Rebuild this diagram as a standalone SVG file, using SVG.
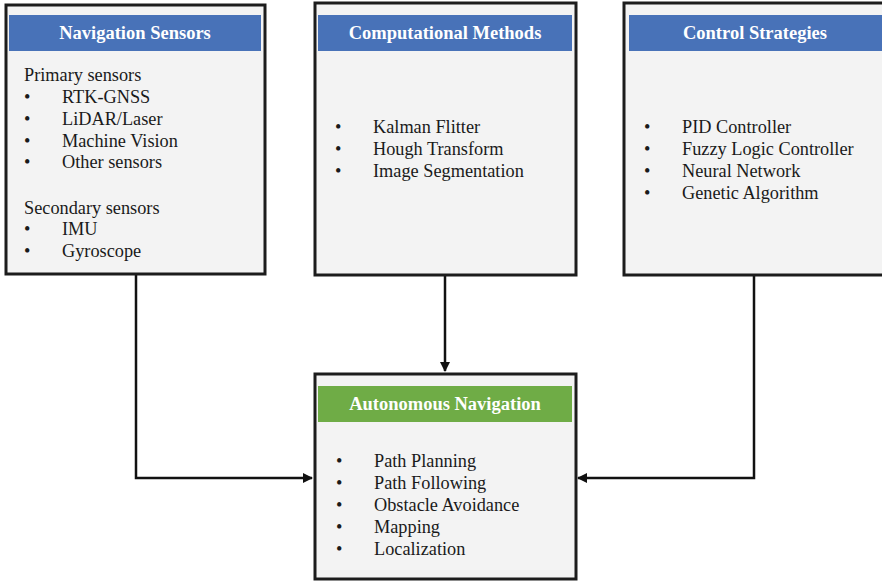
<svg xmlns="http://www.w3.org/2000/svg" width="882" height="581" viewBox="0 0 882 581">
  <style>
    .box { fill: #f3f3f3; stroke: #1c1c1c; stroke-width: 3; }
    .hdr-blue { fill: #4872b8; }
    .hdr-green { fill: #6fac46; }
    .title { font-family: "Liberation Serif", "Times New Roman", serif; font-size: 18.5px; font-weight: bold; fill: #ffffff; text-anchor: middle; }
    .txt { font-family: "Liberation Serif", "Times New Roman", serif; font-size: 18.3px; fill: #1a1a1a; }
    .link { fill: none; stroke: #111111; stroke-width: 2.5; }
  </style>
  <defs>
    <marker id="arrow" markerWidth="10" markerHeight="10" refX="9" refY="5" orient="auto" markerUnits="userSpaceOnUse">
      <path d="M0,0 L10,5 L0,10 Z" fill="#111111"/>
    </marker>
  </defs>
  <rect width="882" height="581" fill="#ffffff"/>

  <!-- connectors -->
  <g id="connectors">
    <path class="link" d="M136,275 V478 H312" marker-end="url(#arrow)"/>
    <path class="link" d="M445,275 V371" marker-end="url(#arrow)"/>
    <path class="link" d="M754,275 V478 H578" marker-end="url(#arrow)"/>
  </g>

  <!-- Navigation Sensors -->
  <g id="navigation-sensors">
    <rect class="box" x="6" y="5" width="259" height="269"/>
    <rect class="hdr-blue" x="9" y="15" width="252" height="36"/>
    <text class="title" x="135" y="39">Navigation Sensors</text>
    <text class="txt" x="24" y="81">Primary sensors</text>
    <text class="txt" x="24" y="103">•</text><text class="txt" x="62" y="103">RTK-GNSS</text>
    <text class="txt" x="24" y="125">•</text><text class="txt" x="62" y="125">LiDAR/Laser</text>
    <text class="txt" x="24" y="147">•</text><text class="txt" x="62" y="147">Machine Vision</text>
    <text class="txt" x="24" y="168">•</text><text class="txt" x="62" y="168">Other sensors</text>
    <text class="txt" x="24" y="214">Secondary sensors</text>
    <text class="txt" x="24" y="235">•</text><text class="txt" x="62" y="235">IMU</text>
    <text class="txt" x="24" y="257">•</text><text class="txt" x="62" y="257">Gyroscope</text>
  </g>

  <!-- Computational Methods -->
  <g id="computational-methods">
    <rect class="box" x="315" y="3" width="261" height="272"/>
    <rect class="hdr-blue" x="318" y="15" width="254" height="36"/>
    <text class="title" x="445" y="39">Computational Methods</text>
    <text class="txt" x="335" y="133">•</text><text class="txt" x="373" y="133">Kalman Flitter</text>
    <text class="txt" x="335" y="155">•</text><text class="txt" x="373" y="155">Hough Transform</text>
    <text class="txt" x="335" y="177">•</text><text class="txt" x="373" y="177">Image Segmentation</text>
  </g>

  <!-- Control Strategies -->
  <g id="control-strategies">
    <rect class="box" x="624" y="3" width="262" height="272"/>
    <rect class="hdr-blue" x="629" y="15" width="253" height="36"/>
    <text class="title" x="755" y="39">Control Strategies</text>
    <text class="txt" x="644" y="133">•</text><text class="txt" x="682" y="133">PID Controller</text>
    <text class="txt" x="644" y="155">•</text><text class="txt" x="682" y="155">Fuzzy Logic Controller</text>
    <text class="txt" x="644" y="177">•</text><text class="txt" x="682" y="177">Neural Network</text>
    <text class="txt" x="644" y="199">•</text><text class="txt" x="682" y="199">Genetic Algorithm</text>
  </g>

  <!-- Autonomous Navigation -->
  <g id="autonomous-navigation">
    <rect class="box" x="315" y="374" width="261" height="205"/>
    <rect class="hdr-green" x="318" y="386" width="254" height="36"/>
    <text class="title" x="445" y="410">Autonomous Navigation</text>
    <text class="txt" x="336" y="467">•</text><text class="txt" x="374" y="467">Path Planning</text>
    <text class="txt" x="336" y="489">•</text><text class="txt" x="374" y="489">Path Following</text>
    <text class="txt" x="336" y="511">•</text><text class="txt" x="374" y="511">Obstacle Avoidance</text>
    <text class="txt" x="336" y="533">•</text><text class="txt" x="374" y="533">Mapping</text>
    <text class="txt" x="336" y="555">•</text><text class="txt" x="374" y="555">Localization</text>
  </g>
</svg>
